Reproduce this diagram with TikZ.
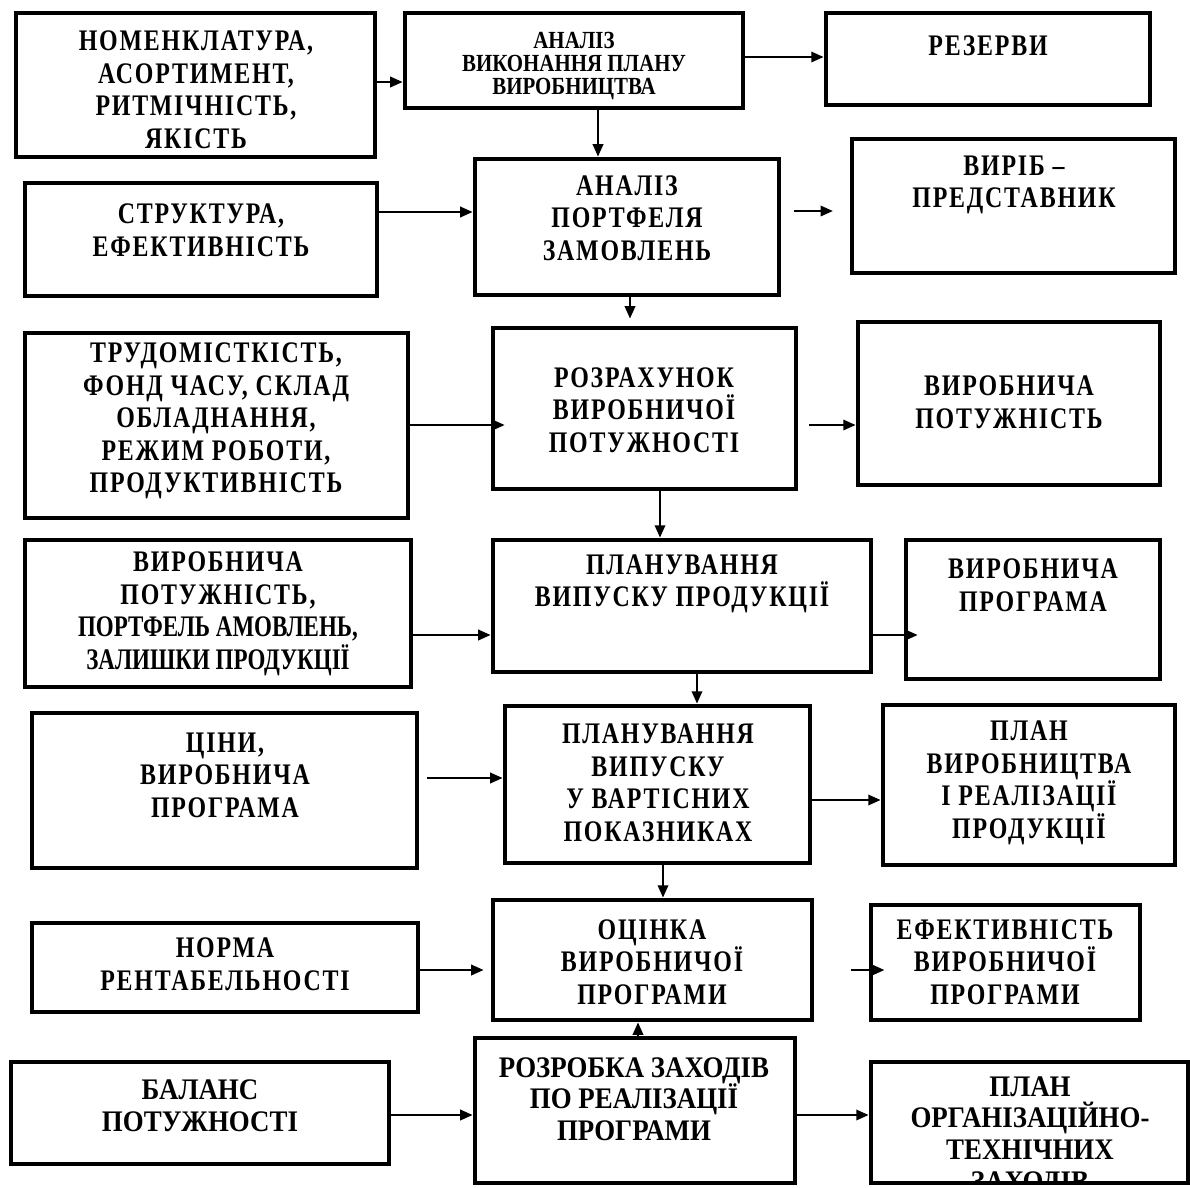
\documentclass[tikz,border=0pt]{standalone}
\usepackage{fontspec}
\setmainfont{Liberation Serif}
\newfontfamily\spacedfont{Liberation Serif}[FakeStretch=0.8,LetterSpace=6]
\newfontfamily\narrowfont{Liberation Serif}[FakeStretch=0.9]
\newfontfamily\tightfont{Liberation Serif}[FakeStretch=0.77]
\newfontfamily\smallfont{Liberation Serif}[FakeStretch=0.85]
\usetikzlibrary{arrows.meta,fit}

\begin{document}
\begin{tikzpicture}[x=0.02cm,y=-0.02cm,>={Triangle[length=7pt,width=6pt]},
  box/.style={draw,line width=2.8pt,inner sep=0pt},
  txt/.style={align=center,font=\spacedfont\bfseries\fontsize{17}{18.5}\selectfont},
  ntxt/.style={align=center,font=\narrowfont\bfseries\fontsize{17}{18}\selectfont},
  stxt/.style={align=center,font=\smallfont\bfseries\fontsize{14}{13}\selectfont},
  link/.style={->,line width=1pt}]
\useasboundingbox (0,0) rectangle (1190,1187);

% row 1
\node[box,fit={(16,13) (375,157)}] (nom) {};
\node[txt] (nomt) at (196,90) {НОМЕНКЛАТУРА,\\АСОРТИМЕНТ,\\РИТМІЧНІСТЬ,\\ЯКІСТЬ};
\node[box,fit={(405,13) (743,108)}] (anvp) {};
\node[stxt] (anvpt) at (574,66) {АНАЛІЗ\\ВИКОНАННЯ ПЛАНУ\\ВИРОБНИЦТВА};
\node[box,fit={(826,13) (1150,105)}] (rez) {};
\node[txt] (rezt) at (988,46) {РЕЗЕРВИ};

% row 2
\node[box,fit={(25,183) (377,296)}] (str) {};
\node[txt] (strt) at (201,230) {СТРУКТУРА,\\ЕФЕКТИВНІСТЬ};
\node[box,fit={(475,159) (779,295)}] (anpz) {};
\node[txt] (anpzt) at (627,218) {АНАЛІЗ\\ПОРТФЕЛЯ\\ЗАМОВЛЕНЬ};
\node[box,fit={(852,139) (1175,273)}] (vyr) {};
\node[txt] (vyrt) at (1014,185) {ВИРІБ –\\ПРЕДСТАВНИК};

% row 3
\node[box,fit={(25,333) (408,518)}] (trud) {};
\node[txt] (trudt) at (216,421) {ТРУДОМІСТКІСТЬ,\\ФОНД ЧАСУ, СКЛАД\\ОБЛАДНАННЯ,\\РЕЖИМ РОБОТИ,\\ПРОДУКТИВНІСТЬ};
\node[box,fit={(493,328) (796,489)}] (rozr) {};
\node[txt] (rozrt) at (644,410) {РОЗРАХУНОК\\ВИРОБНИЧОЇ\\ПОТУЖНОСТІ};
\node[box,fit={(858,322) (1160,485)}] (potu) {};
\node[txt] (potut) at (1009,402) {ВИРОБНИЧА\\ПОТУЖНІСТЬ};

% row 4
\node[box,fit={(25,540) (411,687)}] (vpot) {};
\node[txt] (vpott) at (218,614) {ВИРОБНИЧА\\ПОТУЖНІСТЬ,\\{\tightfont ПОРТФЕЛЬ АМОВЛЕНЬ,}\\{\tightfont ЗАЛИШКИ ПРОДУКЦІЇ}};
\node[box,fit={(493,540) (871,672)}] (plvp) {};
\node[txt] (plvpt) at (682,584) {ПЛАНУВАННЯ\\ВИПУСКУ ПРОДУКЦІЇ};
\node[box,fit={(906,540) (1160,679)}] (vprog) {};
\node[txt] (vprogt) at (1033,585) {ВИРОБНИЧА\\ПРОГРАМА};

% row 5
\node[box,fit={(32,713) (417,868)}] (cin) {};
\node[txt] (cint) at (225,775) {ЦІНИ,\\ВИРОБНИЧА\\ПРОГРАМА};
\node[box,fit={(505,706) (810,863)}] (plvv) {};
\node[txt] (plvvt) at (658,783) {ПЛАНУВАННЯ\\ВИПУСКУ\\У ВАРТІСНИХ\\ПОКАЗНИКАХ};
\node[box,fit={(883,705) (1175,865)}] (plan) {};
\node[txt] (plant) at (1029,783) {ПЛАН\\ВИРОБНИЦТВА\\І РЕАЛІЗАЦІЇ\\ПРОДУКЦІЇ};

% row 6
\node[box,fit={(32,923) (418,1012)}] (norm) {};
\node[txt] (normt) at (225,964) {НОРМА\\РЕНТАБЕЛЬНОСТІ};
\node[box,fit={(493,900) (812,1020)}] (ocin) {};
\node[txt] (ocint) at (652,962) {ОЦІНКА\\ВИРОБНИЧОЇ\\ПРОГРАМИ};
\node[box,fit={(871,905) (1140,1020)}] (efek) {};
\node[txt] (efekt) at (1005,962) {ЕФЕКТИВНІСТЬ\\ВИРОБНИЧОЇ\\ПРОГРАМИ};

% row 7
\node[box,fit={(11,1062) (389,1164)}] (bal) {};
\node[ntxt] (balt) at (200,1106) {БАЛАНС\\ПОТУЖНОСТІ};
\node[box,fit={(475,1038) (795,1183)}] (rozz) {};
\node[ntxt] (rozzt) at (634,1099) {РОЗРОБКА ЗАХОДІВ\\ПО РЕАЛІЗАЦІЇ\\ПРОГРАМИ};
\node[box,fit={(871,1062) (1188,1183)}] (porg) {};
\begin{scope}
  \clip (871,1062) rectangle (1188,1181);
  \node[ntxt] (porgt) at (1030,1137) {ПЛАН\\ОРГАНІЗАЦІЙНО-\\ТЕХНІЧНИХ\\ЗАХОДІВ};
\end{scope}

% connectors
\draw[link] (nom.east |- 0,82) -- (anvp.west |- 0,82);
\draw[link] (anvp.east |- 0,57) -- (rez.west |- 0,57);
\draw[link] (anvp.south -| 598,0) -- (anpz.north -| 598,0);
\draw[link] (str.east |- 0,212) -- (anpz.west |- 0,212);
\draw[link,shorten <=7pt,shorten >=9.5pt] (anpz.east |- 0,211) -- (vyr.west |- 0,211);
\draw[link,shorten >=4pt] (anpz.south -| 630,0) -- (rozr.north -| 630,0);
\draw[link,shorten >=-8pt] (trud.east |- 0,425) -- (rozr.west |- 0,425);
\draw[link,shorten <=6pt] (rozr.east |- 0,425) -- (potu.west |- 0,425);
\draw[link] (rozr.south -| 660,0) -- (plvp.north -| 660,0);
\draw[link] (vpot.east |- 0,635) -- (plvp.west |- 0,635);
\draw[link,shorten >=-8pt] (plvp.east |- 0,635) -- (vprog.west |- 0,635);
\draw[link] (plvp.south -| 697,0) -- (plvv.north -| 697,0);
\draw[link,shorten <=4.5pt] (cin.east |- 0,778) -- (plvv.west |- 0,778);
\draw[link] (plvv.east |- 0,800) -- (plan.west |- 0,800);
\draw[link] (plvv.south -| 663,0) -- (ocin.north -| 663,0);
\draw[link,shorten >=4pt] (norm.east |- 0,970) -- (ocin.west |- 0,970);
\draw[link,shorten <=21pt,shorten >=-9pt] (ocin.east |- 0,970) -- (efek.west |- 0,970);
\draw[link] (rozz.north -| 638,0) -- (ocin.south -| 638,0);
\draw[link] (bal.east |- 0,1115) -- (rozz.west |- 0,1115);
\draw[link] (rozz.east |- 0,1115) -- (porg.west |- 0,1115);
\end{tikzpicture}
\end{document}
